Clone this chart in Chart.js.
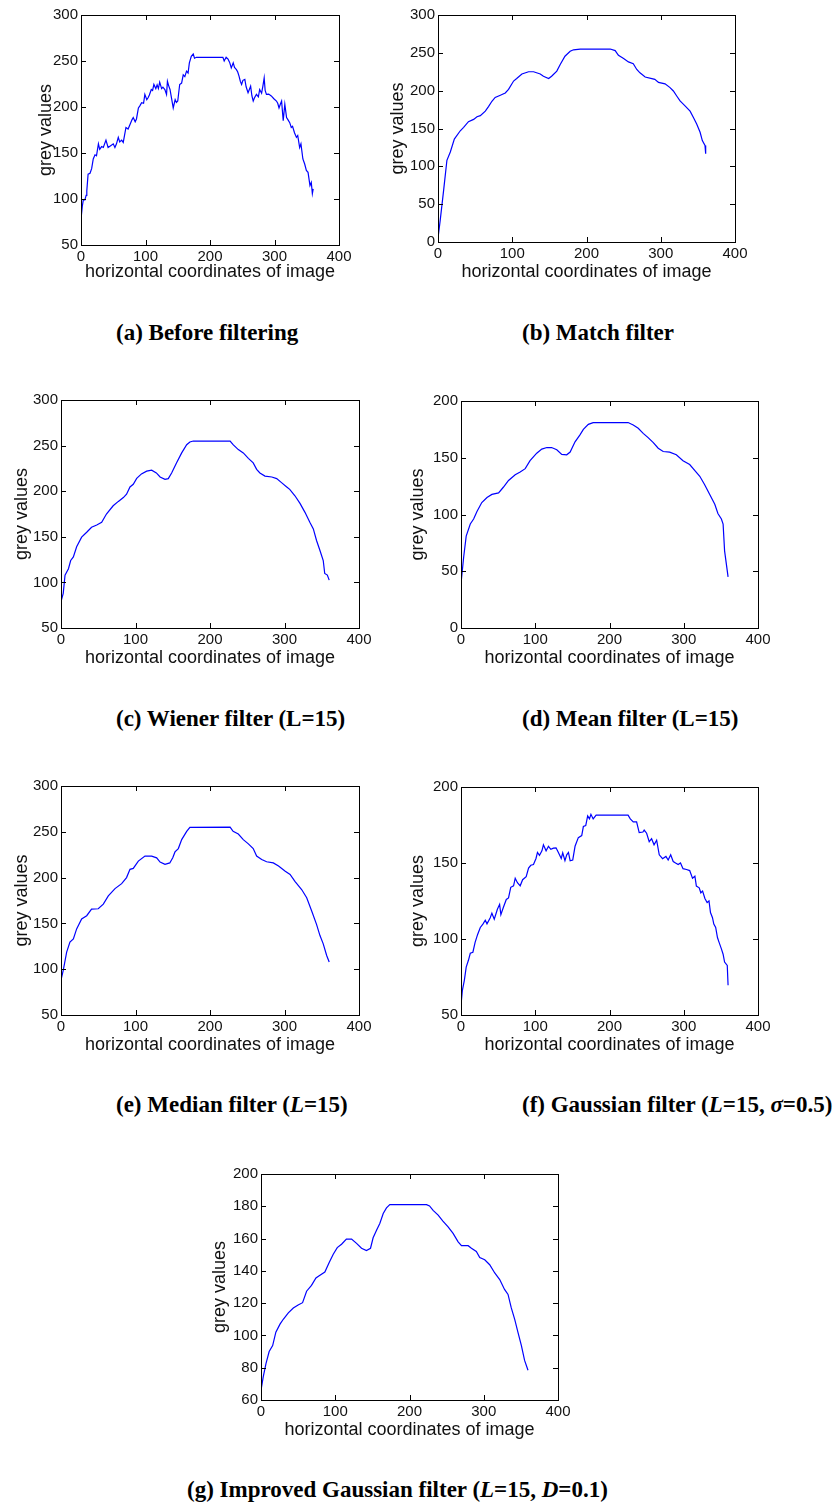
<!DOCTYPE html>
<html>
<head>
<meta charset="utf-8">
<script src="https://cdn.jsdelivr.net/npm/chart.js@4.4.1/dist/chart.umd.min.js"></script>
<style>
    body { margin: 0; background: #fff; }
    #page { position: relative; width: 840px; height: 1504px; overflow: hidden; background: #fff; }
    #page canvas { position: absolute; }
    .caption {
        position: absolute;
        font: bold 23px "Liberation Serif", "Times New Roman", serif;
        line-height: 23px;
        white-space: nowrap;
        color: #000;
    }
</style>
</head>
<body>
<div id="page"></div>
<script>
// grey value profiles (x = horizontal coordinate, y = grey value)
const beforeX = [0, 2, 3.6, 6, 8, 9, 11, 14, 16.5, 19, 21.7, 24, 27, 29, 32, 34.6, 38.7, 42, 46, 50, 52.6, 55, 57.8, 60, 63, 65.5, 69.7, 73, 76, 79, 81, 84, 86, 89, 91, 94, 97, 99, 102, 104, 106, 109, 111, 113, 116, 118, 120, 122, 125, 127, 130, 132.6, 134, 136, 138, 140, 143, 146, 148, 150, 153, 156, 158.5, 161, 163.6, 166, 168, 171, 174, 176, 179, 220, 222, 225, 228, 230.7, 233, 236, 238, 241, 243, 245, 247, 249, 251, 254, 256, 259, 261, 263, 265, 267, 269, 272, 275, 277, 280, 282, 284, 285.5, 287.5, 291, 295, 299, 303, 305, 307, 309, 311, 313.5, 316, 318.7, 321, 323.6, 326, 328, 331, 334, 336, 339, 341, 344, 346.8, 349.4, 352, 355, 357, 358.7, 360];
const beforeY = [78, 92, 99, 99, 104, 109, 127, 128, 133, 143.5, 148, 147, 160, 154, 157, 156, 164, 156, 158, 160, 156, 160, 167, 162, 164, 161.5, 177.7, 176, 181, 186, 188.5, 184, 187, 199, 201, 204.7, 204, 213.7, 208, 210, 213, 219, 218, 224.5, 220, 224, 220, 227, 220, 221.6, 219, 213.7, 228, 223, 219, 211, 199, 208, 205, 206.5, 224.5, 226, 235, 233, 239, 237, 248, 255, 257.5, 253, 254, 254, 250, 254, 252, 248, 242.5, 248, 243, 240.6, 238, 233.5, 228, 224.5, 229, 230, 222, 215.5, 219, 222.7, 212, 206.5, 210, 213.7, 211, 219, 215, 222.7, 231.7, 218, 213.7, 214, 212, 209, 206.5, 204, 199, 203, 206.5, 185, 203, 188.5, 186, 183, 177.7, 179, 172, 167, 169, 156, 160, 143.5, 138, 131, 129, 114.7, 118, 105.8, 111];

const matchX = [0, 3, 7.6, 12, 16.6, 22, 30, 34.5, 41, 48, 52.5, 57, 63.7, 68, 72.6, 77, 84, 90.6, 95, 101.8, 106, 113, 122, 128.7, 137.7, 142, 149, 153, 160, 164.6, 171, 178, 182.5, 191.5, 232, 238.6, 243, 250, 256.5, 263, 267.7, 272, 279, 288, 292, 297, 305.8, 312.5, 317, 321.5, 326, 332.7, 339.5, 344, 348.4, 353, 356, 359.6, 360.5];
const matchY = [5, 29, 68.5, 108, 119, 136, 147, 151.5, 159, 162, 165.5, 167, 173, 179, 186, 191, 194, 197, 201.7, 212.7, 216, 222, 225, 225, 222, 219, 216, 219, 225.8, 234.5, 245.5, 252, 254, 255, 255, 253, 246.7, 242.4, 238, 235.5, 228, 223.6, 218, 216, 215, 211, 209, 204, 199.6, 193, 186.5, 180, 173, 164.6, 156, 145, 134, 127.5, 116.6];

const wienerX = [0, 3, 5.4, 10, 13, 16.6, 21, 27.7, 34.5, 41, 48, 54.6, 61, 70, 77, 83.7, 88, 92.6, 97, 101.6, 108, 115, 121.7, 128, 133, 139.6, 144, 148.5, 155, 162, 168.7, 173, 177.6, 227, 231, 238, 244.7, 251.5, 258, 262.6, 267, 273.8, 283, 289.5, 296, 303, 307, 314, 320.8, 327.5, 334, 338.7, 343, 347.6, 352, 354, 357.5, 360];
const wienerY = [79, 88, 108, 115, 124, 128, 139, 149.6, 155, 160.5, 163, 166, 175, 184, 188.8, 193, 196.7, 204.7, 207.6, 214, 219, 222, 223, 220, 215.6, 213, 213.8, 220, 231, 242, 251, 254, 255, 255, 251, 245.6, 242, 236, 231, 224, 220, 216.6, 215.6, 213.8, 209.4, 204.7, 202, 195, 186.6, 176.8, 166, 158.7, 146, 135, 124, 109.8, 108, 102.5];

const meanX = [0, 3.6, 7, 12.5, 17, 21.5, 28, 35, 41.6, 50.6, 57, 64, 73, 79.7, 86.5, 93, 102, 108.8, 115.6, 122, 129, 135.7, 142.4, 147, 153.6, 160, 164.8, 171.5, 178, 225, 232, 238.7, 245.4, 252, 259, 265.6, 272.3, 281, 290, 299, 308, 315, 321.6, 328, 335, 341.8, 346, 350.7, 353, 355, 359.7];
const meanY = [39, 62.5, 81, 91.6, 96, 102.6, 110.5, 115, 117.7, 119, 124, 130, 135, 137.5, 140.4, 147.4, 154, 157.6, 159, 159, 157, 153, 152.6, 155, 164, 170, 175, 179.4, 181, 181, 178.8, 176, 171.5, 167.7, 163.4, 158.4, 155.5, 155, 152.6, 147.4, 144, 138.7, 133.7, 126.5, 117.7, 109, 100.9, 96, 91.6, 68, 45];

const medianX = [0, 3, 7.6, 12, 16.6, 21, 27.7, 34.5, 41, 50, 56.8, 63.5, 72.5, 81.4, 88, 92.6, 97, 103.8, 112.7, 121.7, 128.4, 133, 139.6, 146, 150, 153, 157.5, 162, 168.7, 173, 227, 231, 238, 244.7, 251.5, 258, 262.6, 269.4, 276, 285, 292, 301, 307.5, 314, 323, 329.8, 336.5, 343, 347.6, 352, 356.6, 360];
const medianY = [88, 98.8, 118.6, 129.5, 133, 144, 154.8, 158.4, 165.6, 166, 171, 180, 188, 193.4, 200, 209, 210, 218, 223.5, 223.5, 221.6, 217, 214.4, 216, 221.6, 228, 231.7, 241.5, 250.5, 254.8, 255, 250.5, 247.6, 241.5, 236.8, 231.7, 223.5, 219.8, 217.3, 216, 212.6, 207, 203.5, 196, 187, 178, 163.6, 149, 136.7, 127.7, 115, 107.8];

const gaussX = [0, 1.8, 4.5, 7, 10, 12.5, 16, 19, 22.4, 26, 29.5, 32.7, 35, 39.4, 41.6, 44.8, 49, 52, 53.7, 57, 61, 64, 67, 70.8, 73, 76, 79.7, 83, 87.8, 91, 94, 97.6, 101, 103, 105.7, 109, 111, 114.6, 117.8, 121, 124.5, 128, 131, 135, 137, 140, 142.4, 144.7, 147, 150.5, 153.6, 158, 162.6, 164.8, 168, 170.6, 173, 175, 178, 182, 225, 228, 232, 236.5, 240, 245, 246.7, 250, 253.5, 256.7, 260, 263.5, 267, 271.5, 276, 279, 282.4, 285.8, 289, 292.5, 295.6, 299, 303.7, 308, 311.8, 315, 317, 320.8, 323, 325.4, 328.5, 331.5, 334, 336, 338.7, 340.5, 343, 345.4, 347.6, 350.7, 353, 355, 358.6, 359.7];
const gaussY = [56.5, 66, 72.8, 81.5, 86, 90.6, 91.3, 97.8, 103, 107.6, 109.8, 112.4, 110, 114, 117, 113, 119.6, 122.8, 116, 120.7, 126, 127, 134, 135, 140, 137, 135, 139, 141, 146.7, 148.5, 149, 153, 157, 155, 158, 162, 158, 161, 159, 159.8, 160, 157, 153, 156.7, 151.5, 155.4, 157, 151.5, 152, 161, 166.7, 168, 174, 174.6, 181, 179, 182, 179, 181.5, 181.5, 179, 177, 177, 170, 170.4, 171.7, 169.6, 164, 166, 162, 165, 155.4, 152.8, 154.3, 152, 155.4, 151, 150, 149, 150, 146.3, 145.7, 145, 140, 141.3, 134.8, 133.7, 130.4, 131.5, 126.7, 124, 125, 117.4, 114, 109.8, 107.6, 101, 97.8, 93.5, 90, 84.8, 82.6, 69.6];

const improvedX = [0, 3, 6.7, 11, 15.7, 20, 25.6, 30, 36.8, 43.5, 50, 56, 61.4, 68, 74, 79.4, 86, 92, 97.3, 102.7, 108.5, 115, 122, 128.7, 135.4, 142, 147.5, 151, 155.6, 160, 164.6, 169, 173.5, 222.9, 227, 231.8, 238.6, 245, 252, 258.7, 265.5, 270, 279, 283.4, 290, 294.6, 301.3, 308, 314.8, 321.5, 328, 332.7, 337, 341.7, 346, 350.7, 355, 359.6];
const improvedY = [66, 74.3, 82.5, 90, 93.7, 102, 107, 110, 114, 117, 118.8, 120.3, 127.4, 131, 135.6, 137.3, 139.3, 145.4, 150.3, 154.4, 156.5, 159.7, 159.7, 157, 154, 152.6, 154, 160.5, 165.2, 169.3, 175.5, 179, 181, 181, 180.2, 177.5, 174.5, 170.8, 167.3, 163.2, 158, 155.6, 155.6, 154, 152, 148.3, 146.9, 143.8, 138.7, 134.6, 128.5, 125.4, 117.2, 110, 102, 93.7, 84.5, 78.4];

// axis ranges per panel: [min, max, step]
const rangeA = [50, 300, 50];
const rangeB = [0, 300, 50];
const rangeC = [50, 300, 50];
const rangeD = [0, 200, 50];
const rangeE = [50, 300, 50];
const rangeF = [50, 200, 50];
const rangeG = [60, 200, 20];

const xTitle = 'horizontal coordinates of image';
const yTitle = 'grey values';

// plot box [left, top, right, bottom] in page px, y-axis width, x-axis height
const panels = [
    { xs: beforeX,   ys: beforeY,   range: rangeA, box: [81, 13, 339, 245],    yw: 46, xh: 38 },
    { xs: matchX,    ys: matchY,    range: rangeB, box: [438, 13, 735, 242],   yw: 51, xh: 41 },
    { xs: wienerX,   ys: wienerY,   range: rangeC, box: [61, 398, 359, 628],   yw: 50, xh: 41 },
    { xs: meanX,     ys: meanY,     range: rangeD, box: [461, 399, 758, 628],  yw: 54, xh: 41 },
    { xs: medianX,   ys: medianY,   range: rangeE, box: [61, 784, 359, 1015],  yw: 50, xh: 41 },
    { xs: gaussX,    ys: gaussY,    range: rangeF, box: [461, 785, 758, 1015], yw: 54, xh: 41 },
    { xs: improvedX, ys: improvedY, range: rangeG, box: [261, 1172, 558, 1400], yw: 52, xh: 41 }
];

// caption html, left x, baseline y
const captions = [
    ['(a) Before filtering', 116, 340],
    ['(b) Match filter', 522, 340],
    ['(c) Wiener filter (L=15)', 116, 726],
    ['(d) Mean filter (L=15)', 522, 726],
    ['(e) Median filter (<i>L</i>=15)', 116, 1112],
    ['(f) Gaussian filter (<i>L</i>=15, <i>&sigma;</i>=0.5)', 522, 1112],
    ['(g) Improved Gaussian filter (<i>L</i>=15, <i>D</i>=0.1)', 187, 1497]
];

const sansFont = '"Liberation Sans", Arial, Helvetica, sans-serif';

// MATLAB style frame: closed box with inward ticks on all four sides
const matlabBox = {
    id: 'matlabBox',
    afterDraw(chart) {
        const { ctx, chartArea: a } = chart;
        const x = chart.scales.x, y = chart.scales.y;
        const len = 5;
        ctx.save();
        ctx.strokeStyle = '#000';
        ctx.lineWidth = 1;
        ctx.strokeRect(a.left + 0.5, a.top + 0.5, a.right - a.left, a.bottom - a.top);
        ctx.beginPath();
        x.ticks.forEach(t => {
            const px = Math.round(x.getPixelForValue(t.value)) + 0.5;
            ctx.moveTo(px, a.bottom);
            ctx.lineTo(px, a.bottom - len);
            ctx.moveTo(px, a.top);
            ctx.lineTo(px, a.top + len);
        });
        y.ticks.forEach(t => {
            const py = Math.round(y.getPixelForValue(t.value)) + 0.5;
            ctx.moveTo(a.left, py);
            ctx.lineTo(a.left + len, py);
            ctx.moveTo(a.right, py);
            ctx.lineTo(a.right - len, py);
        });
        ctx.stroke();
        ctx.restore();
    }
};

const page = document.getElementById('page');

function makePanel(p) {
    const [L, T, R, B] = p.box;
    const padTop = 10, padRight = 16;
    const w = R - L + p.yw + padRight;
    const h = B - T + padTop + p.xh;

    const canvas = document.createElement('canvas');
    canvas.width = w;
    canvas.height = h;
    canvas.style.left = (L - p.yw) + 'px';
    canvas.style.top = (T - padTop) + 'px';
    canvas.style.width = w + 'px';
    canvas.style.height = h + 'px';
    page.appendChild(canvas);

    return new Chart(canvas, {
        type: 'line',
        data: {
            datasets: [{
                data: p.xs.map((x, i) => ({ x: x, y: p.ys[i] })),
                borderColor: '#0000ff',
                borderWidth: 1.2,
                pointRadius: 0,
                tension: 0,
                fill: false
            }]
        },
        options: {
            responsive: false,
            animation: false,
            devicePixelRatio: 1,
            layout: { padding: { top: padTop, right: padRight, left: 0, bottom: 0 } },
            plugins: {
                legend: { display: false },
                tooltip: { enabled: false }
            },
            scales: {
                x: {
                    type: 'linear',
                    min: 0,
                    max: 400,
                    border: { display: false },
                    grid: { display: false, drawTicks: false },
                    ticks: {
                        stepSize: 100,
                        autoSkip: false,
                        maxRotation: 0,
                        padding: 3,
                        color: '#111',
                        font: { family: sansFont, size: 15 }
                    },
                    title: {
                        display: true,
                        text: xTitle,
                        padding: 0,
                        color: '#111',
                        font: { family: sansFont, size: 18 }
                    },
                    afterFit: s => { s.height = p.xh; }
                },
                y: {
                    type: 'linear',
                    min: p.range[0],
                    max: p.range[1],
                    border: { display: false },
                    grid: { display: false, drawTicks: false },
                    ticks: {
                        stepSize: p.range[2],
                        autoSkip: false,
                        padding: 3,
                        color: '#111',
                        font: { family: sansFont, size: 15 }
                    },
                    title: {
                        display: true,
                        text: yTitle,
                        padding: 0,
                        color: '#111',
                        font: { family: sansFont, size: 18 }
                    },
                    afterFit: s => { s.width = p.yw; }
                }
            }
        },
        plugins: [matlabBox]
    });
}

panels.forEach(makePanel);

captions.forEach(([html, x, base]) => {
    const div = document.createElement('div');
    div.className = 'caption';
    div.innerHTML = html;
    div.style.left = x + 'px';
    div.style.top = (base - 19) + 'px';
    page.appendChild(div);
});
</script>
</body>
</html>
